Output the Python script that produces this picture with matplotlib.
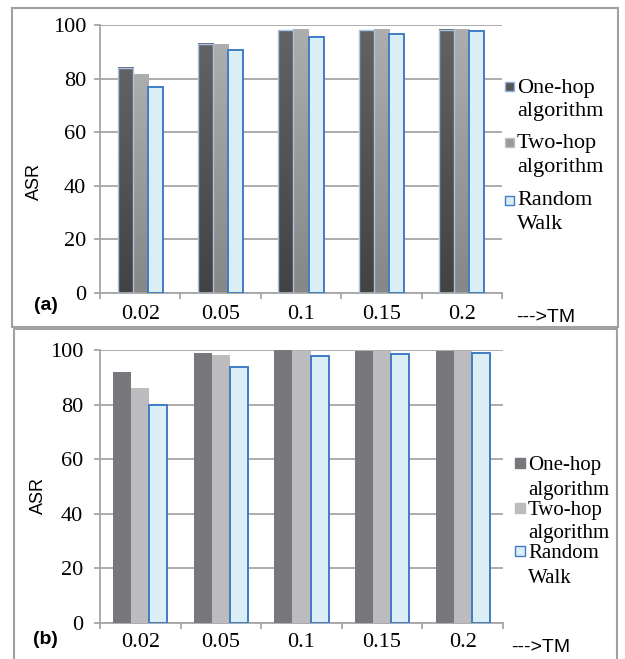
import numpy as np
import matplotlib
matplotlib.use("Agg")
import matplotlib.pyplot as plt
from matplotlib.patches import Rectangle
from matplotlib.lines import Line2D
from matplotlib.colors import LinearSegmentedColormap

# ASR for each TM value
tm_labels = ["0.02", "0.05", "0.1", "0.15", "0.2"]

asr_a_onehop = [84.0, 93.0, 98.0, 98.0, 98.3]
asr_a_twohop = [81.5, 92.8, 98.3, 98.3, 98.3]
asr_a_random = [77.0, 90.5, 95.5, 96.5, 97.6]

asr_b_onehop = [92.0, 99.0, 100.0, 99.5, 99.5]
asr_b_twohop = [86.0, 98.2, 99.8, 99.5, 99.5]
asr_b_random = [80.0, 93.7, 97.8, 98.5, 99.0]

W, H = 625, 659
SERIF = "Liberation Serif"
SANS = "Liberation Sans"
GRID = "#a6a6a6"
BLUE_EDGE = "#3f7cc6"
BLUE_FILL = "#dbeef6"


def fx(x):
    return x / W


def fy(y):
    return 1 - y / H


fig = plt.figure(figsize=(6.25, 6.59), dpi=100)


def make_axes(left, right, top, bottom):
    return fig.add_axes([fx(left), fy(bottom), fx(right) - fx(left), fy(top) - fy(bottom)])


def style_axes(ax, fs, xpad, ypad):
    ax.set_xlim(-0.5, 4.5)
    ax.set_ylim(0, 100)
    ax.set_yticks(range(0, 101, 20))
    ax.yaxis.grid(True, color=GRID, lw=1.3)
    ax.set_axisbelow(True)
    for s in ["top", "right"]:
        ax.spines[s].set_visible(False)
    for s in ["left", "bottom"]:
        ax.spines[s].set_color(GRID)
        ax.spines[s].set_linewidth(1.3)
    ax.set_xticks(np.arange(-0.5, 5.0, 1.0))
    ax.set_xticklabels([])
    ax.set_xticks(range(5), minor=True)
    ax.set_xticklabels(tm_labels, minor=True, fontfamily=SERIF, fontsize=fs)
    ax.tick_params(axis="x", which="major", length=4, color=GRID, width=1.3)
    ax.tick_params(axis="x", which="minor", length=0, pad=xpad)
    ax.tick_params(axis="y", length=4, color=GRID, width=1.3, pad=ypad)
    for lab in ax.get_yticklabels():
        lab.set_fontfamily(SERIF)
        lab.set_fontsize(fs)


def gradient_bar(ax, x, h, w, c_bottom, c_top, edge=None):
    cmap = LinearSegmentedColormap.from_list("g", [c_bottom, c_top])
    grad = np.linspace(0, 1, 64).reshape(-1, 1)
    ax.imshow(grad, extent=[x - w / 2, x + w / 2, 0, h], origin="lower",
              aspect="auto", cmap=cmap, zorder=2)
    if edge is not None:
        ax.add_patch(Rectangle((x - w / 2, 0), w, h, fill=False, ec=edge, lw=1.0, zorder=3))


# ---- panel (a)
ax1 = make_axes(100, 502, 25, 293)
wa = 0.187
x = np.arange(5)
for i in range(5):
    gradient_bar(ax1, x[i] - wa, asr_a_onehop[i], wa, "#434343", "#626262", edge="#a9c2e6")
    gradient_bar(ax1, x[i], asr_a_twohop[i], wa, "#878787", "#adadad")
ax1.bar(x + wa, asr_a_random, wa, color=BLUE_FILL, edgecolor=BLUE_EDGE, lw=1.4, zorder=3)
style_axes(ax1, 16, 9, 6)
ax1.set_ylabel("ASR", fontfamily=SANS, fontsize=13)
ax1.yaxis.set_label_coords(fx(43 - 100) / fx(402), (293 - 181) / 268)

# ---- panel (b)
ax2 = make_axes(100, 503, 350, 623)
wb = 0.224
ax2.bar(x - wb, asr_b_onehop, wb, color="#78787c", zorder=3)
ax2.bar(x, asr_b_twohop, wb, color="#bcbcbf", zorder=3)
ax2.bar(x + wb, asr_b_random, wb, color=BLUE_FILL, edgecolor=BLUE_EDGE, lw=1.4, zorder=3)
style_axes(ax2, 16, 7, 8)
ax2.set_ylabel("ASR", fontfamily=SANS, fontsize=13)
ax2.yaxis.set_label_coords(fx(47 - 100) / fx(403), (623 - 495) / 273)

# ---- frames around the two panels
fig.add_artist(Rectangle((fx(12), fy(327)), fx(618) - fx(12), fy(8) - fy(327),
                         transform=fig.transFigure, fill=False, ec="#a0a0a0", lw=1.5))
fig.add_artist(Line2D([fx(14), fx(14), fx(617), fx(617)], [fy(665), fy(329), fy(329), fy(665)],
                      transform=fig.transFigure, color="#a0a0a0", lw=1.5))

# ---- panel tags and axis note
fig.text(fx(46), fy(306), "(a)", fontfamily=SANS, fontweight="bold", fontsize=14,
         ha="center", va="center")
fig.text(fx(45), fy(639), "(b)", fontfamily=SANS, fontweight="bold", fontsize=14,
         ha="center", va="center")
fig.text(fx(546), fy(318), "--->TM", fontfamily=SANS, fontsize=14, ha="center", va="center")
fig.text(fx(541), fy(648), "--->TM", fontfamily=SANS, fontsize=14, ha="center", va="center")


# ---- legends
def legend_entry(mx, my, msize, face, edge, tx, lines, baselines, fs):
    fig.add_artist(Rectangle((fx(mx), fy(my + msize / 2)), fx(msize), msize / H,
                             transform=fig.transFigure, fc=face, ec=edge, lw=1.0))
    for t, b in zip(lines, baselines):
        fig.text(fx(tx), fy(b), t, fontfamily=SERIF, fontsize=fs, ha="left", va="baseline")


legend_entry(505, 86, 9, "#555555", "#8fb0e0", 517, ["One-hop", "algorithm"], [93, 116], 16)
legend_entry(505, 142, 9, "#9a9a9a", "#c0c0c0", 517, ["Two-hop", "algorithm"], [148, 172], 16)
legend_entry(505, 200, 9, BLUE_FILL, BLUE_EDGE, 517, ["Random", "Walk"], [205, 229], 16)

legend_entry(515, 463, 10, "#78787c", "#78787c", 528, ["One-hop", "algorithm"], [470, 495], 15)
legend_entry(515, 508, 10, "#bcbcbf", "#bcbcbf", 528, ["Two-hop", "algorithm"], [515, 538], 15)
legend_entry(515, 551, 10, BLUE_FILL, BLUE_EDGE, 528, ["Random", "Walk"], [558, 583], 15)

fig.savefig("out.png", dpi=100)
